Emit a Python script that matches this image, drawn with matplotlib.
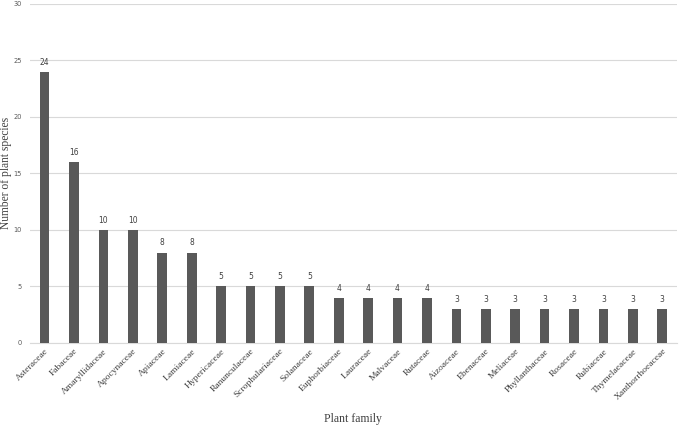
import matplotlib
matplotlib.use("Agg")
import matplotlib.pyplot as plt

families = ["Asteraceae", "Fabaceae", "Amaryllidaceae", "Apocynaceae", "Apiaceae", "Lamiaceae",
            "Hypericaceae", "Ranunculaceae", "Scrophulariaceae", "Solanaceae", "Euphorbiaceae",
            "Lauraceae", "Malvaceae", "Rutaceae", "Aizoaceae", "Ebenaceae", "Meliaceae",
            "Phyllanthaceae", "Rosaceae", "Rubiaceae", "Thymelaeaceae", "Xanthorrhoeaceae"]
counts = [24, 16, 10, 10, 8, 8, 5, 5, 5, 5, 4, 4, 4, 4, 3, 3, 3, 3, 3, 3, 3, 3]
yticks = [0, 5, 10, 15, 20, 25, 30]

fig = plt.figure(figsize=(6.79, 4.26), dpi=100)
ax = fig.add_axes([0.044, 0.195, 0.953, 0.796])
x = list(range(len(families)))
bars = ax.bar(x, counts, width=0.33, color="#595959", zorder=3)
for xi, c in zip(x, counts):
    ax.text(xi, c + 0.45, str(c), ha="center", va="bottom", fontsize=5.5, color="#404040",
            family="DejaVu Sans")
ax.set_xlim(-0.5, len(families) - 0.5)
ax.set_ylim(0, 30)
ax.set_yticks(yticks)
ax.set_yticklabels([str(t) for t in yticks], fontsize=4.8, color="#595959", family="DejaVu Sans")
ax.yaxis.grid(True, color="#d9d9d9", linewidth=0.8, zorder=0)
ax.set_xticks(x)
ax.set_xticklabels(families, rotation=45, ha="right", va="top", rotation_mode="anchor",
                   fontsize=6.8, color="#404040", family="Liberation Serif")
ax.tick_params(axis="both", length=0, pad=3)
ax.tick_params(axis="y", pad=5.8)
for s in ["top", "right", "left"]:
    ax.spines[s].set_visible(False)
ax.spines["bottom"].set_color("#d9d9d9")
ax.set_ylabel("Number of plant species", family="Liberation Serif", fontsize=8.3, color="#404040")
ax.yaxis.set_label_coords(-0.027, 0.5)
ax.set_xlabel("Plant family", family="Liberation Serif", fontsize=8.5, color="#404040")
ax.xaxis.set_label_coords(0.5, -0.207)
fig.savefig("out.png", dpi=100)
